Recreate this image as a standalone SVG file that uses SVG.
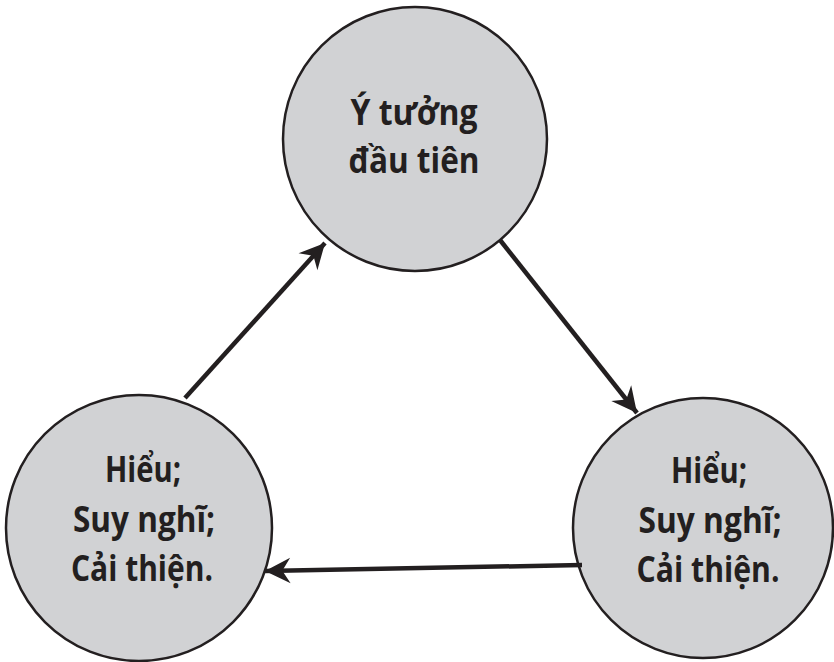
<svg xmlns="http://www.w3.org/2000/svg" width="834" height="662" viewBox="0 0 834 662">
<style>
.node circle{fill:#d1d2d4;stroke:#231f20;stroke-width:2.5}
.node text{font-family:"Open Sans","Noto Sans","DejaVu Sans",sans-serif;font-weight:700;font-size:35px;fill:#231f20;text-anchor:middle}
.conn line{stroke:#231f20;stroke-width:4.5;fill:none}
</style>
<defs>
<marker id="ah" markerUnits="userSpaceOnUse" markerWidth="30" markerHeight="30" viewBox="-24 -12 26 24" refX="0" refY="0" orient="auto">
<path d="M0,0 L-22,-11 L-15,0 L-22,11 Z" fill="#231f20"/>
</marker>
</defs>
<g id="node-top" class="node">
<circle cx="415" cy="139" r="132"/>
<text x="414" y="125" textLength="127" lengthAdjust="spacingAndGlyphs">Ý tưởng</text>
<text x="414" y="173" textLength="131" lengthAdjust="spacingAndGlyphs">đầu tiên</text>
</g>
<g id="node-left" class="node">
<circle cx="139" cy="528" r="133"/>
<text x="143" y="482" textLength="76" lengthAdjust="spacingAndGlyphs">Hiểu;</text>
<text x="144" y="532" textLength="142" lengthAdjust="spacingAndGlyphs">Suy nghĩ;</text>
<text x="142" y="581" textLength="142" lengthAdjust="spacingAndGlyphs">Cải thiện.</text>
</g>
<g id="node-right" class="node">
<circle cx="703" cy="528" r="130"/>
<text x="709" y="483" textLength="76" lengthAdjust="spacingAndGlyphs">Hiểu;</text>
<text x="710" y="533" textLength="143" lengthAdjust="spacingAndGlyphs">Suy nghĩ;</text>
<text x="708" y="582" textLength="143" lengthAdjust="spacingAndGlyphs">Cải thiện.</text>
</g>
<g id="connectors" class="conn">
<line x1="185" y1="398" x2="325" y2="243" marker-end="url(#ah)"/>
<line x1="500" y1="240" x2="637" y2="413" marker-end="url(#ah)"/>
<line x1="582" y1="565" x2="265" y2="571" marker-end="url(#ah)"/>
</g>
</svg>
